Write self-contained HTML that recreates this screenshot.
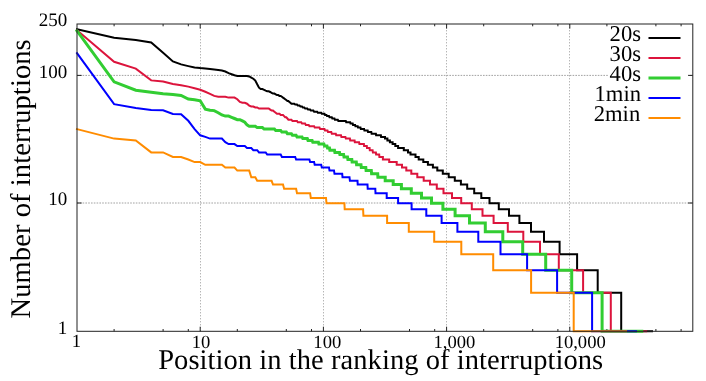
<!DOCTYPE html>
<html><head><meta charset="utf-8"><title>chart</title>
<style>
html,body{margin:0;padding:0;background:#fff;}
body{width:706px;height:381px;overflow:hidden;font-family:"Liberation Serif",serif;}
svg{display:block;}
.t{font-family:"Liberation Serif",serif;fill:#000;-webkit-font-smoothing:antialiased;text-rendering:geometricPrecision;}
</style></head>
<body>
<svg width="706" height="381" viewBox="0 0 706 381">
<rect width="706" height="381" fill="#fff"/>
<line x1="200.5" y1="331.3" x2="200.5" y2="24.0" stroke="#7c7c7c" stroke-width="0.8" stroke-dasharray="1,2"/>
<line x1="323.5" y1="331.3" x2="323.5" y2="24.0" stroke="#7c7c7c" stroke-width="0.8" stroke-dasharray="1,2"/>
<line x1="446.5" y1="331.3" x2="446.5" y2="24.0" stroke="#7c7c7c" stroke-width="0.8" stroke-dasharray="1,2"/>
<line x1="569.5" y1="331.3" x2="569.5" y2="24.0" stroke="#7c7c7c" stroke-width="0.8" stroke-dasharray="1,2"/>
<line x1="77.0" y1="203.0" x2="692.8" y2="203.0" stroke="#a2a2a2" stroke-width="1" stroke-dasharray="1.6,1.2"/>
<line x1="77.0" y1="75.4" x2="692.8" y2="75.4" stroke="#a2a2a2" stroke-width="1" stroke-dasharray="1.6,1.2"/>
<rect x="609" y="28" width="79" height="100" fill="#fff"/>
<path d="M114.1 331.3v-2.3M114.1 24.0v2.3M163.1 331.3v-2.3M163.1 24.0v2.3M188.3 331.3v-2.3M188.3 24.0v2.3M200.2 331.3v-4.6M200.2 24.0v4.6M237.3 331.3v-2.3M237.3 24.0v2.3M286.3 331.3v-2.3M286.3 24.0v2.3M311.5 331.3v-2.3M311.5 24.0v2.3M323.4 331.3v-4.6M323.4 24.0v4.6M360.5 331.3v-2.3M360.5 24.0v2.3M409.5 331.3v-2.3M409.5 24.0v2.3M434.7 331.3v-2.3M434.7 24.0v2.3M446.6 331.3v-4.6M446.6 24.0v4.6M483.7 331.3v-2.3M483.7 24.0v2.3M532.7 331.3v-2.3M532.7 24.0v2.3M557.9 331.3v-2.3M557.9 24.0v2.3M569.8 331.3v-4.6M569.8 24.0v4.6M606.9 331.3v-2.3M606.9 24.0v2.3M655.9 331.3v-2.3M655.9 24.0v2.3M681.1 331.3v-2.3M681.1 24.0v2.3M77.0 203.0h4.6M692.8 203.0h-4.6M77.0 75.4h4.6M692.8 75.4h-4.6" fill="none" stroke="#222" stroke-width="1"/>
<polyline points="77.0,29.2 114.1,37.8 135.8,40.1 151.2,42.5 163.1,52.8 172.9,61.4 181.1,64.4 188.3,66.1 194.6,67.5 200.2,68.1 205.3,68.5 210.0,68.9 214.2,69.5 218.2,70.0 221.9,70.5 225.3,71.5 228.6,73.1 231.6,74.2 234.5,75.3 237.3,75.9 247.0,75.9 249.2,76.4 251.3,77.6 253.3,78.7 255.3,80.5 257.2,84.3 259.0,87.7 260.7,89.1 262.4,89.1 264.1,89.8 265.7,90.6 267.2,91.3 268.7,91.3 270.2,92.0 271.6,92.8 273.0,93.6 274.4,93.6 275.7,94.3 277.0,95.1 278.2,95.1 279.5,95.9 280.7,95.9 281.9,96.7 283.0,97.6 284.1,98.4 285.2,99.2 286.3,100.1 287.4,101.0 288.4,101.0 289.4,101.9 290.4,102.8 291.4,103.7 294.3,103.7 295.2,104.6 297.0,104.6 297.8,105.6 299.5,105.6 300.4,106.5 302.0,106.5 302.8,107.5 304.3,107.5 305.1,108.5 307.3,108.5 308.0,109.6 310.1,109.6 310.8,110.6 313.4,110.6 314.1,111.7 317.2,111.7 317.8,112.7 321.2,112.7 321.8,113.8 324.5,113.8 325.0,115.0 326.5,115.0 327.0,116.1 329.0,116.1 329.5,117.3 331.8,117.3 332.3,118.5 334.5,118.5 334.9,119.7 337.8,119.7 338.3,120.9 345.8,120.9 346.2,122.2 350.2,122.2 350.5,123.5 352.7,123.5 353.0,124.9 355.1,124.9 355.4,126.2 357.7,126.2 358.0,127.6 360.5,127.6 360.8,129.1 364.1,129.1 364.4,130.6 367.7,130.6 368.0,132.1 371.3,132.1 371.6,133.7 375.9,133.7 376.1,135.3 380.9,135.3 381.1,136.9 385.0,136.9 385.0,138.6 387.4,138.6 387.4,140.4 389.9,140.4 389.9,142.2 392.6,142.2 392.6,144.1 395.3,144.1 395.3,146.1 398.1,146.1 398.1,148.1 403.8,148.1 403.8,150.2 408.0,150.2 408.0,152.4 410.5,152.4 410.5,154.6 415.5,154.6 415.5,157.0 418.7,157.0 418.7,159.5 423.3,159.5 423.3,162.1 427.9,162.1 427.9,164.8 432.9,164.8 432.9,167.6 437.3,167.6 437.3,170.6 442.8,170.6 442.8,173.8 448.7,173.8 448.7,177.2 454.8,177.2 454.8,180.8 460.9,180.8 460.9,184.6 467.2,184.6 467.2,188.7 474.2,188.7 474.2,193.2 481.3,193.2 481.3,198.0 489.5,198.0 489.5,203.3 498.8,203.3 498.8,209.2 509.0,209.2 509.0,215.7 519.4,215.7 519.4,223.1 531.0,223.1 531.0,231.7 544.0,231.7 544.0,241.8 559.6,241.8 559.6,254.2 577.1,254.2 577.1,270.2 597.7,270.2 597.7,292.8 621.2,292.8 621.2,331.3 652.0,331.3" fill="none" stroke="#000000" stroke-width="2.0" stroke-linejoin="miter" stroke-linecap="square"/>
<polyline points="77.0,30.2 114.1,61.8 135.8,68.6 151.2,80.4 163.1,81.6 172.9,84.0 181.1,85.2 188.3,86.6 194.6,88.3 200.2,89.8 205.3,91.8 210.0,93.8 214.2,95.9 218.2,96.7 225.3,96.7 228.6,97.6 234.5,97.6 237.3,99.2 239.9,101.9 242.4,102.8 244.8,102.8 247.0,103.7 249.2,105.6 251.3,106.5 253.3,106.5 255.3,107.5 257.2,107.5 259.0,108.5 268.7,108.5 270.2,109.6 271.6,110.6 273.0,110.6 274.4,111.7 275.7,112.7 277.0,113.8 279.5,113.8 280.7,115.0 283.0,115.0 284.1,116.1 285.2,117.3 286.3,117.3 287.4,118.5 288.4,119.7 291.4,119.7 292.4,120.9 297.0,120.9 297.8,122.2 301.2,122.2 302.0,123.5 305.1,123.5 305.8,124.9 308.7,124.9 309.4,126.2 314.1,126.2 314.7,127.6 319.5,127.6 320.1,129.1 324.5,129.1 325.0,130.6 327.5,130.6 328.0,132.1 331.3,132.1 331.8,133.7 335.8,133.7 336.2,135.3 341.0,135.3 341.4,136.9 345.4,136.9 345.8,138.6 349.9,138.6 350.2,140.4 354.6,140.4 354.8,142.2 359.1,142.2 359.4,144.1 363.9,144.1 364.1,146.1 366.8,146.1 367.0,148.1 369.6,148.1 369.8,150.2 372.6,150.2 372.9,152.4 375.9,152.4 376.1,154.6 379.2,154.6 379.4,157.0 382.9,157.0 382.9,159.5 389.2,159.5 389.2,162.1 396.7,162.1 396.7,164.8 402.0,164.8 402.0,167.6 406.3,167.6 406.3,170.6 411.3,170.6 411.3,173.8 417.3,173.8 417.3,177.2 423.7,177.2 423.7,180.8 430.0,180.8 430.0,184.6 436.8,184.6 436.8,188.7 443.5,188.7 443.5,193.2 452.0,193.2 452.0,198.0 461.2,198.0 461.2,203.3 471.8,203.3 471.8,209.2 482.5,209.2 482.5,215.7 493.6,215.7 493.6,223.1 507.8,223.1 507.8,231.7 523.3,231.7 523.3,241.8 540.0,241.8 540.0,254.2 558.8,254.2 558.8,270.2 583.1,270.2 583.1,292.8 610.8,292.8 610.8,331.3 646.2,331.3" fill="none" stroke="#dc143c" stroke-width="2.0" stroke-linejoin="miter" stroke-linecap="square"/>
<polyline points="77.0,30.8 114.1,81.8 135.8,90.2 151.2,92.3 163.1,93.7 172.9,94.5 181.1,95.5 188.3,99.0 194.6,99.7 200.2,100.8 205.3,109.1 210.0,110.2 214.2,110.6 218.2,112.7 221.9,115.0 225.3,116.1 228.6,116.1 231.6,117.3 234.5,118.5 237.3,119.7 239.9,119.7 242.4,120.9 244.8,122.2 247.0,124.9 249.2,126.2 255.3,126.2 257.2,127.6 262.4,127.6 264.1,129.1 274.4,129.1 275.7,130.6 280.7,130.6 281.9,132.1 286.3,132.1 287.4,133.7 291.4,133.7 292.4,135.3 296.1,135.3 297.0,136.9 302.0,136.9 302.8,138.6 307.3,138.6 308.0,140.4 312.1,140.4 312.8,142.2 318.4,142.2 318.9,144.1 323.9,144.1 324.5,146.1 327.0,146.1 327.5,148.1 329.5,148.1 329.9,150.2 334.5,150.2 334.9,152.4 339.5,152.4 339.9,154.6 343.6,154.6 344.0,157.0 347.5,157.0 347.9,159.5 351.8,159.5 352.1,162.1 356.3,162.1 356.6,164.8 361.0,164.8 361.3,167.6 365.8,167.6 366.1,170.6 371.3,170.6 371.6,173.8 377.7,173.8 377.9,177.2 385.2,177.2 385.2,180.8 393.2,180.8 393.2,184.6 401.4,184.6 401.4,188.7 411.3,188.7 411.3,193.2 421.5,193.2 421.5,198.0 431.5,198.0 431.5,203.3 442.9,203.3 442.9,209.2 455.1,209.2 455.1,215.7 469.5,215.7 469.5,223.1 485.3,223.1 485.3,231.7 502.8,231.7 502.8,241.8 522.7,241.8 522.7,254.2 545.7,254.2 545.7,270.2 571.7,270.2 571.7,292.8 602.1,292.8 602.1,331.3 641.8,331.3" fill="none" stroke="#32cd32" stroke-width="3.0" stroke-linejoin="miter" stroke-linecap="square"/>
<polyline points="77.0,53.1 114.1,104.2 135.8,108.1 151.2,110.1 163.1,110.2 172.9,114.0 181.1,114.2 188.3,120.8 194.6,129.1 200.2,135.3 205.3,136.9 210.0,138.6 221.9,138.6 225.3,142.2 228.6,144.1 234.5,144.1 237.3,146.1 244.8,146.1 247.0,148.1 251.3,148.1 253.3,150.2 257.2,150.2 259.0,152.4 265.7,152.4 267.2,154.6 280.7,154.6 281.9,157.0 295.2,157.0 296.1,159.5 309.4,159.5 310.1,162.1 314.1,162.1 314.7,164.8 321.2,164.8 321.8,167.6 329.0,167.6 329.5,170.6 334.0,170.6 334.5,173.8 342.2,173.8 342.5,177.2 349.5,177.2 349.9,180.8 357.5,180.8 357.7,184.6 367.5,184.6 367.7,188.7 375.3,188.7 375.5,193.2 386.7,193.2 386.7,198.0 398.1,198.0 398.1,203.3 411.6,203.3 411.6,209.2 426.3,209.2 426.3,215.7 441.6,215.7 441.6,223.1 457.4,223.1 457.4,231.7 478.3,231.7 478.3,241.8 500.5,241.8 500.5,254.2 527.1,254.2 527.1,270.2 557.1,270.2 557.1,292.8 592.1,292.8 592.1,331.3 636.0,331.3" fill="none" stroke="#0000ff" stroke-width="2.0" stroke-linejoin="miter" stroke-linecap="square"/>
<polyline points="77.0,129.1 114.1,138.6 135.8,140.4 151.2,152.4 163.1,152.4 172.9,157.0 181.1,157.0 188.3,159.5 194.6,162.1 200.2,162.1 205.3,164.8 221.9,164.8 225.3,167.6 234.5,167.6 237.3,170.6 249.2,170.6 251.3,177.2 255.3,177.2 257.2,180.8 271.6,180.8 273.0,184.6 283.0,184.6 284.1,188.7 296.1,188.7 297.0,193.2 310.1,193.2 310.8,198.0 326.0,198.0 326.5,203.3 344.4,203.3 344.7,209.2 363.1,209.2 363.4,215.7 387.1,215.7 387.1,223.1 408.8,223.1 408.8,231.7 434.2,231.7 434.2,241.8 461.3,241.8 461.3,254.2 493.2,254.2 493.2,270.2 531.1,270.2 531.1,292.8 573.7,292.8 573.7,331.3 626.1,331.3" fill="none" stroke="#ff8c00" stroke-width="2.0" stroke-linejoin="miter" stroke-linecap="square"/>
<rect x="77.0" y="24.0" width="615.8" height="307.3" fill="none" stroke="#222" stroke-width="1"/>
<line x1="648.5" y1="38.1" x2="680.5" y2="38.1" stroke="#000000" stroke-width="2.0"/>
<line x1="648.5" y1="58.1" x2="680.5" y2="58.1" stroke="#dc143c" stroke-width="2.0"/>
<line x1="648.5" y1="78.0" x2="680.5" y2="78.0" stroke="#32cd32" stroke-width="3.0"/>
<line x1="648.5" y1="98.0" x2="680.5" y2="98.0" stroke="#0000ff" stroke-width="2.0"/>
<line x1="648.5" y1="117.9" x2="680.5" y2="117.9" stroke="#ff8c00" stroke-width="2.0"/>
<g style="filter:grayscale(1)">
<text x="641.0" y="40.9" font-size="22.6" text-anchor="end" class="t">20s</text>
<text x="641.0" y="60.8" font-size="22.6" text-anchor="end" class="t">30s</text>
<text x="641.0" y="80.8" font-size="22.6" text-anchor="end" class="t">40s</text>
<text x="641.0" y="100.7" font-size="22.6" text-anchor="end" class="t">1min</text>
<text x="640.2" y="120.6" font-size="22.6" text-anchor="end" class="t">2min</text>
<text x="67.2" y="26.3" font-size="19" text-anchor="end" class="t">250</text>
<text x="67.2" y="77.5" font-size="19" text-anchor="end" class="t">100</text>
<text x="67.2" y="205.0" font-size="19" text-anchor="end" class="t">10</text>
<text x="67.2" y="333.9" font-size="19" text-anchor="end" class="t">1</text>
<text x="76.5" y="347.2" font-size="18.6" text-anchor="middle" class="t">1</text>
<text x="201.0" y="348.1" font-size="18.6" text-anchor="middle" class="t">10</text>
<text x="327.3" y="348.1" font-size="18.6" text-anchor="middle" class="t">100</text>
<text x="454.4" y="348.1" font-size="18.6" text-anchor="middle" class="t">1,000</text>
<text x="580.2" y="348.1" font-size="18.6" text-anchor="middle" class="t">10,000</text>
<text x="158.2" y="369.0" font-size="28.5" textLength="445" lengthAdjust="spacing" class="t">Position in the ranking of interruptions</text>
<text transform="translate(29.5,318.5) rotate(-90)" font-size="28.5" textLength="279.2" lengthAdjust="spacing" class="t">Number of interruptions</text>
</g>
</svg>
</body></html>
